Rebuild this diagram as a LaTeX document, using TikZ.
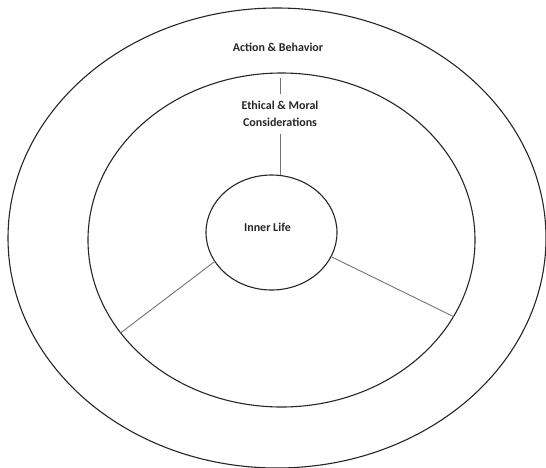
\documentclass[tikz,border=0pt]{standalone}
\usepackage{fontspec}
\setmainfont{Carlito}
\usepackage{tikz}
\usetikzlibrary{shapes.geometric}

\begin{document}
\begin{tikzpicture}[x=1pt, y=-1pt,
  ring/.style={draw, ellipse, inner sep=0pt, outer sep=0pt, line width=1.1pt, black!85},
  lbl/.style={font=\fontsize{12}{17}\selectfont\bfseries, align=center, text=black!85},
  spoke/.style={draw, line width=0.9pt, black!55}]
\useasboundingbox (0,0) rectangle (546,467);
\node[ring, minimum width=538pt, minimum height=460pt] (outer) at (277,238) {};
\node[ring, minimum width=387pt, minimum height=334pt] (middle) at (281.5,240) {};
\node[ring, minimum width=131pt, minimum height=115pt] (core) at (271.5,232.5) {};
\node[lbl] (action) at (278,47) {Action \& Behavior};
\node[lbl, inner ysep=7pt] (ethics) at (280,114) {Ethical \& Moral\\ Considerations};
\node[lbl] (life) at (267.5,227) {Inner Life};
\coordinate (gap) at (ethics.north |- 0,78);
% spokes
\draw[spoke] (ethics.north) -- (gap);
\draw[spoke] (ethics.south) -- (ethics.south |- core.north);
\draw[spoke] (core.207) -- (middle.210);
\draw[spoke] (core.338) -- (middle.336.5);
\end{tikzpicture}
\end{document}
